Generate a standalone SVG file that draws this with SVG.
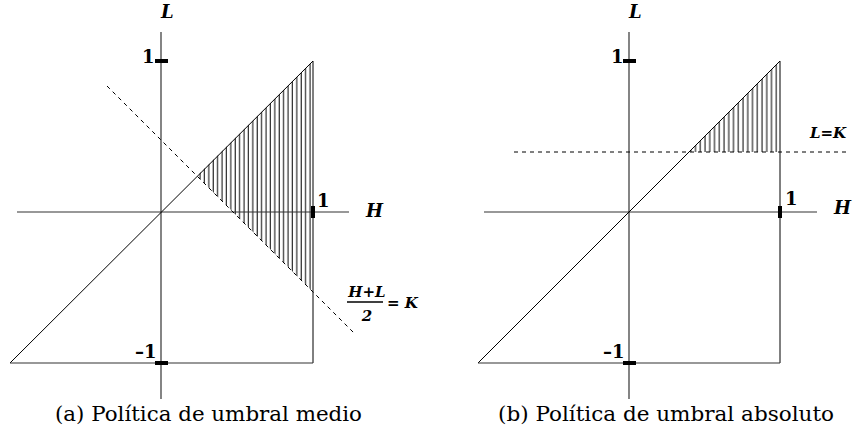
<svg xmlns="http://www.w3.org/2000/svg" width="857" height="432" viewBox="0 0 857 432">
<style>
.ax{stroke:#333;stroke-width:1.2;fill:none}
.ln{stroke:#000;stroke-width:1;fill:none}
.dash{stroke:#000;stroke-width:1;fill:none;stroke-dasharray:4 4}
.tick{fill:#000}
text{font-family:'DejaVu Serif','Liberation Serif',serif;fill:#000}
.lab{font-weight:bold;font-style:italic;font-size:18px}
.num{font-weight:bold;font-size:18px}
.frac{font-weight:bold;font-style:italic;font-size:15px}
.cap{font-size:21px}
</style>
<defs>
<pattern id="hatchA" patternUnits="userSpaceOnUse" x="0" y="0" width="4.4" height="10">
<line x1="2" y1="0" x2="2" y2="10" stroke="#000" stroke-width="1"/>
</pattern>
<pattern id="hatchB" patternUnits="userSpaceOnUse" x="0" y="0" width="4.75" height="10">
<line x1="2" y1="0" x2="2" y2="10" stroke="#000" stroke-width="1"/>
</pattern>
</defs>
<rect width="857" height="432" fill="#fff"/>

<g id="panelA">
<polygon points="197,176 313,61 313,292" fill="url(#hatchA)"/>
<line class="ax" x1="17" y1="212" x2="349" y2="212"/>
<line class="ax" x1="161" y1="32" x2="161" y2="399"/>
<line class="ln" x1="10" y1="363" x2="313" y2="61"/>
<line class="ln" x1="313" y1="61" x2="313" y2="363"/>
<line class="ax" x1="10" y1="363" x2="313" y2="363"/>
<line class="dash" x1="107" y1="86" x2="355" y2="334"/>
<rect class="tick" x="155" y="59" width="13" height="4"/>
<rect class="tick" x="155" y="361" width="13" height="4"/>
<rect class="tick" x="311" y="206" width="4" height="12"/>
<text class="lab" x="161" y="18">L</text>
<text class="num" x="142" y="63">1</text>
<text class="num" x="317" y="207">1</text>
<text class="lab" x="366" y="217">H</text>
<text class="num" x="135" y="358">–1</text>
<text class="frac" x="367" y="297" text-anchor="middle">H+L</text>
<line x1="347" y1="302" x2="383" y2="302" stroke="#000" stroke-width="1.5"/>
<text class="frac" x="367" y="321" text-anchor="middle" font-style="normal">2</text>
<text class="frac" x="387" y="308">= K</text>
<text class="cap" x="208.5" y="421" text-anchor="middle" textLength="307" lengthAdjust="spacingAndGlyphs">(a) Política de umbral medio</text>
</g>

<g id="panelB">
<polygon points="689,152 780,61 780,152" fill="url(#hatchB)"/>
<line class="ax" x1="484" y1="212" x2="817" y2="212"/>
<line class="ax" x1="629" y1="32" x2="629" y2="399"/>
<line class="ln" x1="478" y1="363" x2="780" y2="61"/>
<line class="ln" x1="780" y1="61" x2="780" y2="363"/>
<line class="ax" x1="478" y1="363" x2="780" y2="363"/>
<line class="dash" x1="514" y1="152" x2="849" y2="152"/>
<rect class="tick" x="623" y="59" width="13" height="4"/>
<rect class="tick" x="623" y="361" width="13" height="4"/>
<rect class="tick" x="778" y="206" width="4" height="12"/>
<text class="lab" x="629" y="18">L</text>
<text class="num" x="611" y="63">1</text>
<text class="num" x="785" y="205">1</text>
<text class="lab" x="834" y="214">H</text>
<text class="num" x="603" y="358">–1</text>
<text class="frac" x="810" y="138" font-size="16">L=K</text>
<text class="cap" x="666" y="421" text-anchor="middle" textLength="336" lengthAdjust="spacingAndGlyphs">(b) Política de umbral absoluto</text>
</g>
</svg>
